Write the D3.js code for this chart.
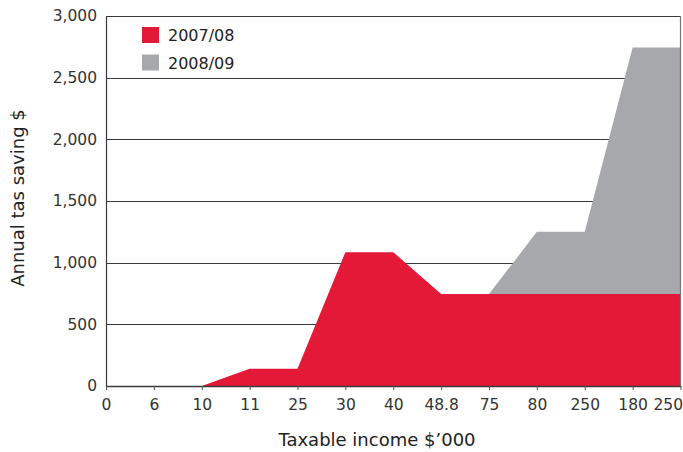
<!DOCTYPE html>
<html>
<head>
<meta charset="utf-8">
<script src="https://cdn.jsdelivr.net/npm/d3@7"></script>
<style>
  body { margin: 0; background: #fff; }
  svg { display: block; font-family: "DejaVu Sans", Arial, sans-serif; }
</style>
</head>
<body>
<svg id="chart" width="683" height="452"></svg>
<script>
const categories = ["0", "6", "10", "11", "25", "30", "40", "48.8", "75", "80", "250", "180", "250"];
const series0708 = [0, 0, 0, 140, 140, 1085, 1085, 745, 745, 745, 745, 745, 745];
const series0809 = [null, null, null, null, null, null, null, null, 745, 1250, 1250, 2745, 2745];
const yTicks = [0, 500, 1000, 1500, 2000, 2500, 3000];
const seriesNames = ["2007/08", "2008/09"];
const colors = ["#e31937", "#a7a8ab"];

const FONT = "'DejaVu Sans', Arial, sans-serif";
const svg = d3.select("#chart");
const margin = {left: 106, right: 2, top: 16, bottom: 66};
const W = 683, H = 452;
const x = d3.scalePoint().domain(d3.range(categories.length)).range([margin.left, W - margin.right - 0.5]);
const y = d3.scaleLinear().domain([0, 3000]).range([H - margin.bottom, margin.top]);

// gridlines
svg.append("g").selectAll("line").data(yTicks.filter(d => d > 0)).join("line")
  .attr("x1", margin.left).attr("x2", W - margin.right)
  .attr("y1", d => Math.round(y(d)) + 0.5).attr("y2", d => Math.round(y(d)) + 0.5)
  .attr("stroke", "#3a3a3a").attr("stroke-width", 1.2);

// areas
const area = d3.area()
  .defined(d => d.v !== null)
  .x(d => x(d.i)).y0(y(0)).y1(d => y(d.v));
const grayData = series0809.map((v, i) => ({i, v}));
const redData = series0708.map((v, i) => ({i, v}));
svg.append("path").datum(grayData).attr("d", area).attr("fill", colors[1]);
svg.append("path").datum(redData).attr("d", area).attr("fill", colors[0]);

// right border
svg.append("line").attr("x1", W - margin.right - 0.5).attr("x2", W - margin.right - 0.5)
  .attr("y1", y(3000)).attr("y2", y(0)).attr("stroke", "#777").attr("stroke-width", 1.2);

// y axis
const yAxis = d3.axisLeft(y).tickValues(yTicks).tickSize(0).tickPadding(9)
  .tickFormat(d3.format(","));
const gy = svg.append("g").attr("transform", `translate(${margin.left},0)`).call(yAxis);
gy.select(".domain").attr("stroke", "#3a3a3a").attr("stroke-width", 1.2);
gy.selectAll("text").attr("font-size", 15.5).attr("fill", "#333").attr("font-family", FONT);

// x axis
const xAxis = d3.axisBottom(x).tickFormat(i => categories[i]).tickSize(4).tickSizeOuter(0).tickPadding(9);
const gx = svg.append("g").attr("transform", `translate(0,${y(0)})`).call(xAxis);
gx.select(".domain").attr("stroke", "#3a3a3a").attr("stroke-width", 1.4);
gx.selectAll(".tick line").attr("stroke", "#555");
gx.selectAll("text").attr("font-size", 15.5).attr("fill", "#333").attr("font-family", FONT);
gx.selectAll(".tick").filter(i => i === categories.length - 1).select("text")
  .attr("text-anchor", "end").attr("dx", 2);

// axis titles
svg.append("text").attr("x", 377).attr("y", 446).attr("text-anchor", "middle")
  .attr("font-size", 18).attr("fill", "#222").attr("font-family", FONT).text("Taxable income $\u2019000");
svg.append("text").attr("transform", "translate(24,198) rotate(-90)").attr("text-anchor", "middle")
  .attr("font-size", 18).attr("fill", "#222").attr("font-family", FONT).text("Annual tas saving $");

// legend
const lg = svg.append("g");
seriesNames.forEach((name, k) => {
  lg.append("rect").attr("x", 142).attr("y", 27 + k * 27.5).attr("width", 17).attr("height", 16).attr("fill", colors[k]);
  lg.append("text").attr("x", 168).attr("y", 41 + k * 27.5).attr("font-size", 16).attr("fill", "#222")
    .attr("font-family", FONT).text(name);
});
</script>
</body>
</html>
